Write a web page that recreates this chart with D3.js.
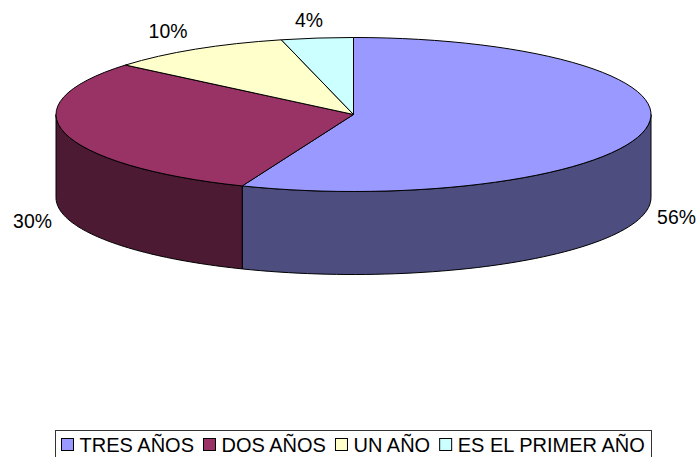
<!DOCTYPE html>
<html>
<head>
<meta charset="utf-8">
<script src="https://cdn.jsdelivr.net/npm/d3@7"></script>
<style>
    body { margin: 0; background: #fff; }
    svg { display: block; }
    text { font-family: "Liberation Sans", Arial, sans-serif; fill: #000; }
</style>
</head>
<body>
<div id="chart"></div>
<script>
const categories = ["TRES AÑOS", "DOS AÑOS", "UN AÑO", "ES EL PRIMER AÑO"];
const values = [56.1, 30, 10, 3.9];
const topColors = ["#9999ff", "#993366", "#ffffcc", "#ccffff"];
const sideColors = ["#4d4d80", "#4d1a33", "#80805f", "#5f8080"];

const width = 699, height = 457;
const cx = 353.5, cy = 114.5, rx = 297.5, ry = 77, depth = 83;
const labelSize = 19.4, legendSize = 20;

const svg = d3.select("#chart").append("svg")
    .attr("width", width)
    .attr("height", height);

const slices = d3.pie().sort(null)(values);

// ellipse is just a circle squashed on y
const yScale = d3.scaleLinear().domain([-1, 1]).range([cy - ry, cy + ry]);
const xScale = d3.scaleLinear().domain([-1, 1]).range([cx - rx, cx + rx]);
const ptX = a => xScale(Math.sin(a));
const ptY = a => yScale(-Math.cos(a));

// front wall, only the part of the rim facing the viewer
const wallPath = d => {
    const a0 = Math.max(d.startAngle, Math.PI / 2);
    const a1 = Math.min(d.endAngle, Math.PI * 3 / 2);
    if (a1 <= a0) return null;
    const rim = d3.range(0, 61).map(i => a0 + (a1 - a0) * i / 60);
    const upper = rim.map(a => [ptX(a), ptY(a)]);
    const lower = rim.slice().reverse().map(a => [ptX(a), ptY(a) + depth]);
    return d3.line()(upper.concat(lower)) + "Z";
};

svg.selectAll("path.wall")
    .data(slices)
    .join("path")
    .attr("class", "wall")
    .attr("d", wallPath)
    .attr("fill", (d, i) => sideColors[i])
    .attr("stroke", "#000")
    .attr("stroke-width", 1);

const arc = d3.arc().innerRadius(0).outerRadius(rx);

svg.append("g")
    .attr("transform", `translate(${cx},${cy}) scale(1,${ry / rx})`)
    .selectAll("path")
    .data(slices)
    .join("path")
    .attr("d", arc)
    .attr("fill", (d, i) => topColors[i])
    .attr("stroke", "#000")
    .attr("stroke-width", 1)
    .attr("vector-effect", "non-scaling-stroke");

// data labels, placed by hand around the pie as in the original
const labelPos = [[676.5, 223.5], [32.5, 227.5], [168, 37.5], [309, 26.5]];
svg.selectAll("text.pct")
    .data(values)
    .join("text")
    .attr("class", "pct")
    .attr("x", (d, i) => labelPos[i][0])
    .attr("y", (d, i) => labelPos[i][1])
    .attr("text-anchor", "middle")
    .attr("font-size", labelSize)
    .text(d => Math.round(d) + "%");

// legend box runs off the bottom of the picture
svg.append("rect")
    .attr("x", 55.5)
    .attr("y", 430.5)
    .attr("width", 596)
    .attr("height", 40)
    .attr("fill", "#fff")
    .attr("stroke", "#333");

let legendX = 61;
categories.forEach((c, i) => {
    svg.append("rect")
        .attr("x", legendX + 0.5)
        .attr("y", 438.5)
        .attr("width", 12)
        .attr("height", 12)
        .attr("fill", topColors[i])
        .attr("stroke", "#000");
    const t = svg.append("text")
        .attr("x", legendX + 18.5)
        .attr("y", 452)
        .attr("font-size", legendSize)
        .text(c);
    legendX += 18.5 + t.node().getComputedTextLength() + 9;
});
</script>
</body>
</html>
